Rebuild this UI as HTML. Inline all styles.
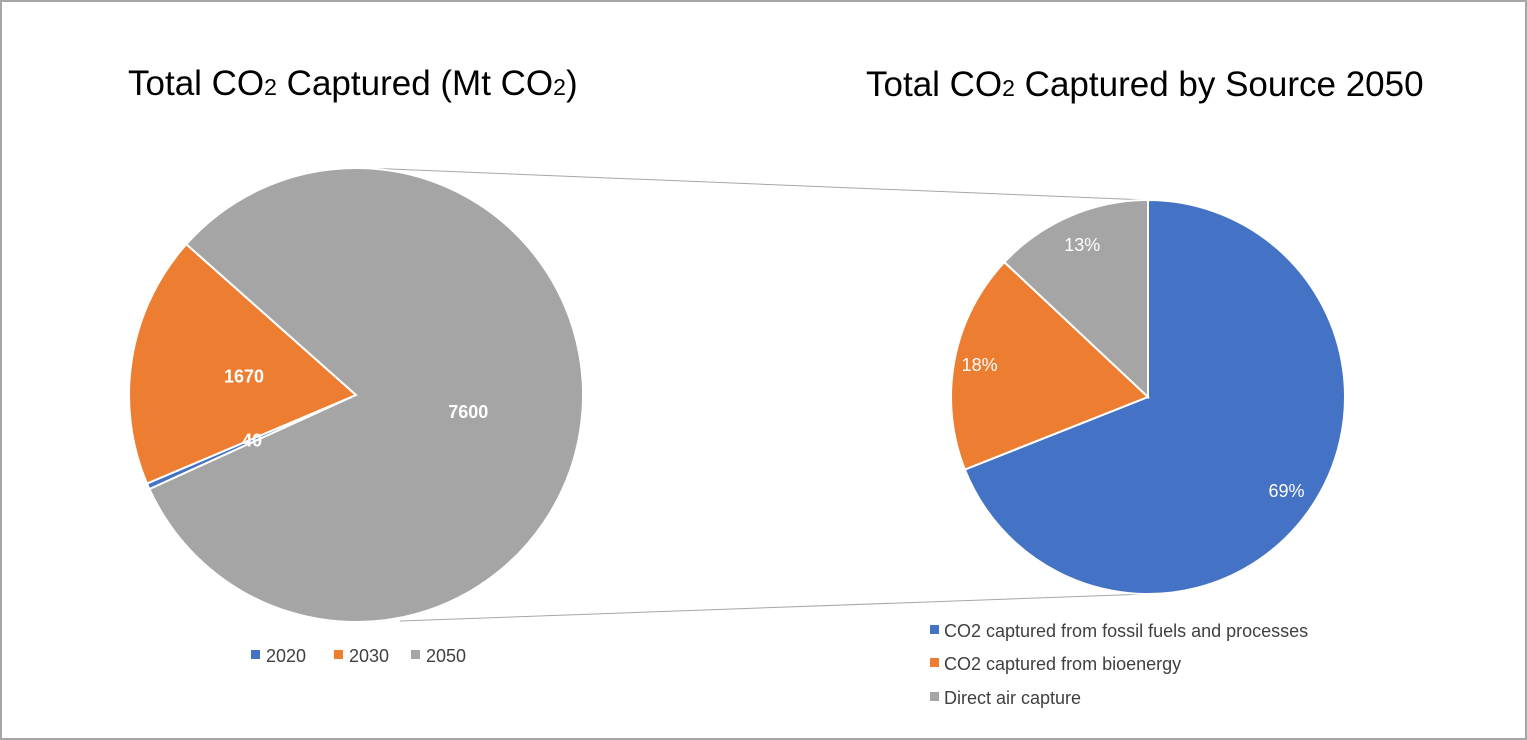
<!DOCTYPE html>
<html><head><meta charset="utf-8"><style>
html,body{margin:0;padding:0;background:#fff;}
svg{display:block;font-family:"Liberation Sans",sans-serif;}
</style></head><body>
<svg id="c" width="1527" height="740">
<rect x="1" y="1" width="1525" height="738" fill="#fff" stroke="#a6a6a6" stroke-width="2"/>
<text x="128" y="95" font-size="35" fill="#000">Total CO<tspan font-size="23">2</tspan> Captured (Mt CO<tspan font-size="23">2</tspan>)</text>
<text x="866" y="96" font-size="35" fill="#000">Total CO<tspan font-size="23">2</tspan> Captured by Source 2050</text>
<line x1="365" y1="168" x2="1148" y2="200" stroke="#a6a6a6" stroke-width="1"/>
<line x1="400" y1="621" x2="1148" y2="594" stroke="#a6a6a6" stroke-width="1"/>
<g id="left"></g>
<g id="right"></g>
<g font-size="18" fill="#404040">
<rect x="251" y="650" width="9" height="9" fill="#4472c4"/><text x="266" y="662">2020</text>
<rect x="334" y="650" width="9" height="9" fill="#ed7d31"/><text x="349" y="662">2030</text>
<rect x="411" y="650" width="9" height="9" fill="#a5a5a5"/><text x="426" y="662">2050</text>
</g>
<g font-size="18" fill="#404040">
<rect x="930" y="625" width="9" height="9" fill="#4472c4"/><text x="944" y="637">CO2 captured from fossil fuels and processes</text>
<rect x="930" y="658" width="9" height="9" fill="#ed7d31"/><text x="944" y="670">CO2 captured from bioenergy</text>
<rect x="930" y="692" width="9" height="9" fill="#a5a5a5"/><text x="944" y="704">Direct air capture</text>
</g>
</svg>
<script>
const leftCats=["2020","2030","2050"];
const leftVals=[40,1670,7600];
const rightCats=["fossil","bioenergy","dac"];
const rightVals=[69,18,13];
const colors=["#4472c4","#ed7d31","#a5a5a5"];
const NS="http://www.w3.org/2000/svg";
function pt(cx,cy,r,a){const t=a*Math.PI/180;return [cx+r*Math.sin(t),cy-r*Math.cos(t)];}
function pie(g,cx,cy,r,start,vals,cats,labelFn,bold,labelR){
  const tot=vals.reduce((a,b)=>a+b,0);let a=start;const labels=[];
  vals.forEach((v,i)=>{
    const sw=v/tot*360,a2=a+sw;
    const p1=pt(cx,cy,r,a),p2=pt(cx,cy,r,a2);
    const p=document.createElementNS(NS,"path");
    p.setAttribute("d",`M${cx},${cy}L${p1[0]},${p1[1]}A${r},${r} 0 ${sw>180?1:0} 1 ${p2[0]},${p2[1]}Z`);
    p.setAttribute("fill",colors[i]);p.setAttribute("stroke","#fff");p.setAttribute("stroke-width","2");
    
    
    g.appendChild(p);
    const lp=pt(cx,cy,r*labelR[i],a+sw/2);
    const t=document.createElementNS(NS,"text");
    t.setAttribute("x",lp[0]);t.setAttribute("y",lp[1]+6);t.setAttribute("text-anchor","middle");
    t.setAttribute("fill","#fff");t.setAttribute("font-size","18");if(bold)t.setAttribute("font-weight","bold");
    t.textContent=labelFn(v,tot);
    
    
    labels.push(t);
    a=a2;
  });
  labels.forEach(t=>g.appendChild(t));
}
pie(document.getElementById("left"),356,395,227,245.5,leftVals,leftCats,v=>String(v),true,[0.5,0.5,0.5]);
pie(document.getElementById("right"),1148,397,197,0,rightVals,rightCats,v=>v+"%",false,[0.85,0.87,0.84]);
</script>
</body></html>
